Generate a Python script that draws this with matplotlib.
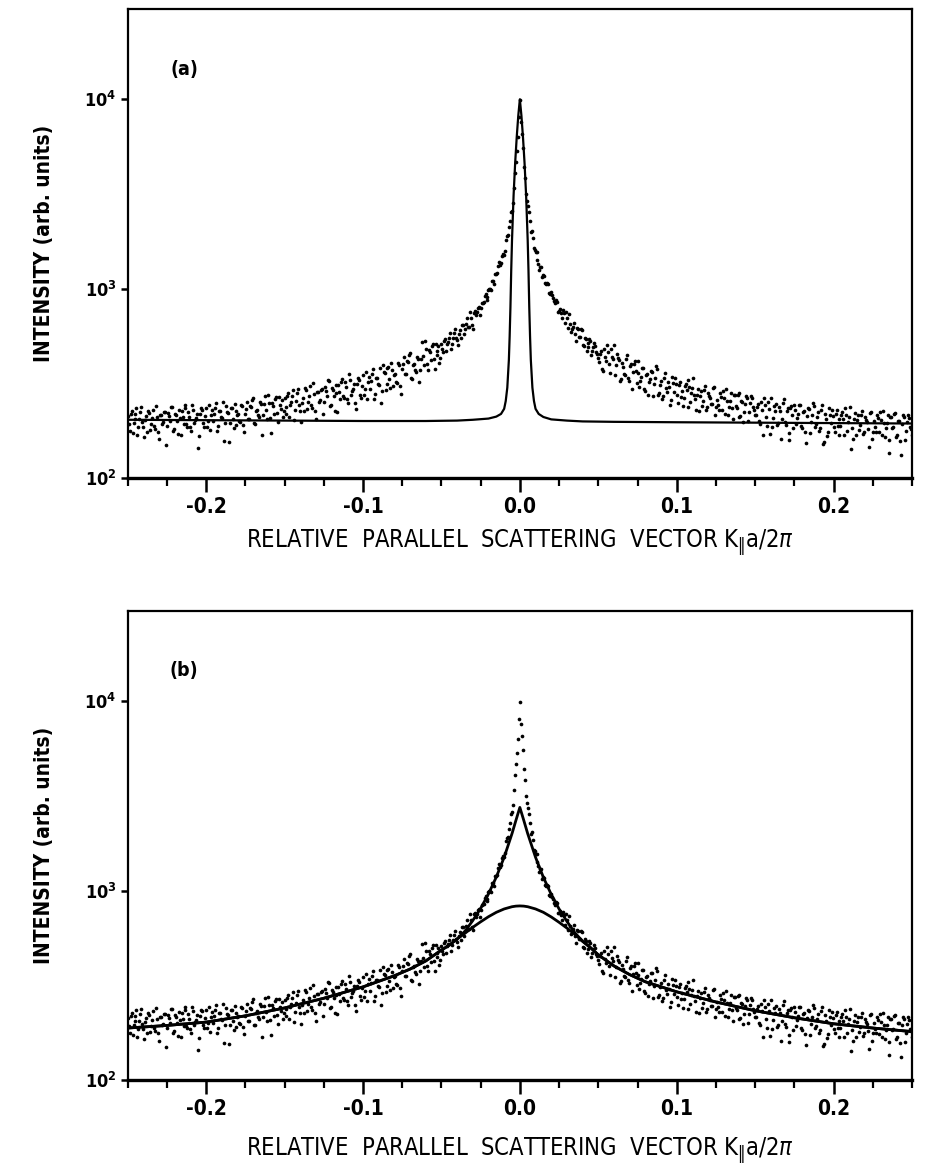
import numpy as np
import matplotlib
matplotlib.use("Agg")
import matplotlib.pyplot as plt
from matplotlib.ticker import FixedLocator, NullLocator, FixedFormatter

# ---------------- data ----------------
# measured intensity, two interleaved scans on -0.25 ... 0.25 (same data in both panels)
scan1_left = [
    212, 178, 226, 196, 218, 168, 206, 236, 186, 202, 176, 220, 192, 230, 182, 210, 160, 216, 198, 224,
    189, 213, 238, 178, 219, 199, 228, 168, 209, 234, 193, 223, 185, 244, 195, 207, 144, 217, 230, 187,
    233, 201, 180, 229, 218, 248, 189, 225, 208, 157, 240, 220, 195, 235, 184, 227, 214, 199, 244, 191,
    218, 252, 205, 236, 266, 194, 230, 210, 245, 216, 271, 206, 250, 172, 241, 260, 220, 267, 232, 211,
    264, 217, 282, 242, 272, 203, 254, 296, 227, 249, 227, 290, 251, 305, 235, 277, 204, 284, 258, 295,
    253, 289, 328, 239, 300, 270, 311, 222, 284, 320, 272, 321, 260, 353, 274, 295, 248, 312, 330, 263,
    350, 296, 261, 343, 324, 375, 277, 337, 309, 249, 393, 359, 314, 386, 297, 373, 348, 321, 404, 307,
    378, 437, 355, 410, 460, 335, 398, 363, 425, 374, 522, 396, 482, 374, 464, 500, 423, 513, 446, 405,
    508, 465, 545, 509, 551, 481, 551, 609, 536, 578, 548, 645, 610, 701, 625, 700, 616, 763, 752, 800,
    786, 845, 914, 876, 978, 996, 1097, 1060, 1197, 1318, 1326, 1489, 1513, 1818, 1921, 2287, 2587, 3410, 4662, 6325,
]
scan1_center = [9900]
scan1_right = [
    6592, 4383, 3152, 2744, 2280, 2028, 1644, 1568, 1421, 1254, 1294, 1184, 1074, 1074, 947, 960, 898, 840, 855, 761,
    741, 774, 662, 700, 731, 587, 629, 579, 619, 557, 609, 502, 552, 466, 517, 530, 469, 516, 463, 429,
    451, 378, 480, 417, 463, 357, 438, 502, 395, 429, 326, 407, 355, 426, 337, 389, 296, 400, 366, 414,
    304, 343, 383, 287, 353, 320, 366, 271, 337, 376, 282, 327, 270, 357, 285, 303, 258, 318, 336, 273,
    310, 268, 240, 305, 290, 330, 251, 299, 276, 228, 296, 272, 241, 291, 228, 280, 265, 246, 301, 236,
    243, 280, 228, 263, 295, 215, 255, 233, 273, 240, 276, 209, 255, 198, 245, 264, 224, 271, 236, 214,
    237, 199, 253, 168, 244, 188, 231, 264, 208, 226, 190, 238, 160, 248, 197, 227, 173, 233, 214, 242,
    193, 218, 244, 183, 225, 153, 233, 172, 214, 239, 192, 222, 184, 243, 155, 206, 175, 216, 228, 186,
    219, 189, 169, 215, 205, 233, 177, 211, 143, 161, 220, 203, 179, 216, 170, 209, 197, 146, 224, 176,
    186, 215, 175, 202, 227, 165, 196, 136, 209, 184, 218, 165, 201, 156, 194, 209, 177, 214, 186, 169,
]
scan2_left = [
    192, 218, 172, 204, 234, 186, 224, 198, 164, 212, 226, 180, 208, 188, 240, 176, 216, 194, 222, 150,
    221, 201, 236, 182, 215, 170, 207, 226, 193, 242, 187, 211, 178, 230, 203, 219, 166, 234, 195, 213,
    187, 242, 216, 199, 235, 178, 227, 210, 252, 195, 223, 155, 233, 206, 246, 191, 218, 197, 240, 174,
    232, 205, 241, 259, 196, 227, 214, 252, 168, 245, 229, 274, 208, 248, 218, 267, 197, 243, 257, 225,
    236, 271, 209, 252, 293, 228, 280, 244, 198, 263, 298, 232, 272, 244, 318, 227, 284, 252, 293, 218,
    302, 272, 324, 244, 293, 226, 281, 309, 260, 333, 263, 302, 250, 331, 289, 314, 231, 337, 276, 305,
    273, 364, 322, 294, 353, 260, 339, 312, 381, 287, 364, 292, 383, 334, 406, 307, 356, 318, 394, 277,
    402, 355, 417, 449, 339, 394, 371, 437, 320, 425, 441, 527, 401, 477, 419, 513, 378, 468, 495, 432,
    482, 529, 467, 525, 581, 513, 584, 552, 506, 604, 646, 579, 649, 629, 750, 640, 748, 729, 790, 724,
    840, 848, 932, 904, 996, 980, 1093, 1190, 1205, 1378, 1362, 1519, 1576, 1901, 2104, 2542, 2829, 4064, 5319, 8096,
]
scan2_right = [
    7616, 5523, 3823, 2897, 2531, 1990, 1848, 1610, 1568, 1347, 1306, 1156, 1169, 1060, 1061, 933, 925, 857, 869, 757,
    784, 698, 741, 752, 618, 654, 612, 657, 531, 610, 556, 604, 500, 543, 491, 544, 444, 493, 499, 450,
    411, 467, 368, 437, 501, 398, 479, 424, 351, 454, 420, 335, 387, 350, 446, 327, 402, 361, 413, 316,
    359, 325, 382, 295, 349, 276, 335, 365, 312, 392, 274, 310, 262, 337, 298, 322, 244, 343, 286, 313,
    249, 323, 289, 266, 314, 238, 303, 280, 337, 260, 276, 226, 289, 255, 305, 237, 271, 245, 297, 216,
    259, 228, 269, 289, 218, 254, 238, 281, 206, 274, 234, 280, 213, 253, 222, 272, 201, 249, 263, 229,
    216, 245, 194, 230, 263, 209, 252, 171, 185, 239, 245, 195, 226, 204, 260, 191, 234, 158, 241, 184,
    228, 207, 243, 188, 222, 175, 213, 232, 198, 249, 187, 211, 178, 230, 152, 219, 166, 234, 195, 213,
    176, 228, 204, 188, 222, 168, 214, 198, 238, 184, 206, 169, 216, 190, 227, 176, 202, 182, 221, 161,
    199, 176, 207, 222, 168, 195, 183, 216, 158, 210, 185, 221, 168, 200, 132, 215, 159, 197, 208, 181,
]
intensity1 = np.array(scan1_left + scan1_center + scan1_right, dtype=float)
intensity2 = np.array(scan2_left + scan2_right, dtype=float)
q1 = np.linspace(-0.25, 0.25, len(intensity1))
q2 = np.linspace(-0.249375, 0.249375, len(intensity2))
q_data = np.concatenate([q1, q2])
intensity = np.concatenate([intensity1, intensity2])

# panel (a): narrow fit curve
fit_a_q = [-0.25, -0.2, -0.15, -0.1, -0.06, -0.04, -0.03, -0.02, -0.015, -0.012, -0.01, -0.009,
           -0.008, -0.007, -0.0065, -0.006, -0.0055, -0.005, -0.004, -0.003, -0.002, -0.001, 0.0,
           0.001, 0.002, 0.003, 0.004, 0.005, 0.0055, 0.006, 0.0065, 0.007, 0.008, 0.009,
           0.01, 0.012, 0.015, 0.02, 0.03, 0.04, 0.06, 0.1, 0.15, 0.2, 0.25]
fit_a_I = [203, 202, 201, 200, 200, 201, 203, 206, 211, 218, 232, 255,
           300, 420, 560, 800, 1250, 1800, 3100, 4600, 6300, 8200, 10000,
           8200, 6300, 4600, 3100, 1800, 1250, 800, 560, 420, 300, 255,
           232, 218, 210, 204, 201, 199, 198, 197, 196, 195, 194]

# panel (b): two fit curves (broad and cusp), identical in the wings
fit_b_q = [-0.25, -0.225, -0.2, -0.175, -0.15, -0.125, -0.1, -0.08, -0.07, -0.06, -0.05, -0.045,
           -0.04, -0.035, -0.03, -0.025, -0.02, -0.015, -0.01, -0.005, -0.0025, 0.0,
           0.0025, 0.005, 0.01, 0.015, 0.02, 0.025, 0.03, 0.035, 0.04,
           0.045, 0.05, 0.06, 0.07, 0.08, 0.1, 0.125, 0.15, 0.175, 0.2, 0.225, 0.25]
fit_b_cusp = [188, 194, 202, 218, 240, 270, 310, 355, 385, 425, 485, 515,
              555, 610, 695, 805, 960, 1180, 1500, 2000, 2350, 2750,
              2350, 2000, 1500, 1175, 955, 800, 688, 600, 540,
              500, 458, 400, 360, 330, 292, 258, 232, 213, 198, 188, 180]
fit_b_broad = [188, 194, 202, 218, 240, 270, 310, 355, 385, 425, 485, 515,
               555, 595, 640, 684, 728, 768, 800, 822, 828, 830,
               828, 822, 800, 768, 726, 680, 634, 588, 540,
               500, 458, 400, 360, 330, 292, 258, 232, 213, 198, 188, 180]

x_major = [-0.2, -0.1, 0.0, 0.1, 0.2]
x_major_labels = ["-0.2", "-0.1", "0.0", "0.1", "0.2"]
x_minor = [-0.25, -0.225, -0.175, -0.15, -0.125, -0.075, -0.05, -0.025,
           0.025, 0.05, 0.075, 0.125, 0.15, 0.175, 0.225, 0.25]
y_major = [1e2, 1e3, 1e4]
y_major_labels = [r"$\mathbf{10^{2}}$", r"$\mathbf{10^{3}}$", r"$\mathbf{10^{4}}$"]

xlabel_text = r"RELATIVE  PARALLEL  SCATTERING  VECTOR K$_{\Vert}$a/2$\pi$"
ylabel_text = "INTENSITY (arb. units)"

# ---------------- figure ----------------
plt.rcParams['font.family'] = ['DejaVu Sans']
plt.rcParams['font.stretch'] = 'condensed'
plt.rcParams['mathtext.fontset'] = 'dejavusans'

fig = plt.figure(figsize=(9.25, 11.67), dpi=100)
ax_a = fig.add_axes([0.138, 0.5904, 0.848, 0.4019])
ax_b = fig.add_axes([0.138, 0.0746, 0.848, 0.4019])


def style(ax, label, xlab_pad):
    ax.set_yscale('log')
    ax.set_xlim(-0.25, 0.25)
    ax.set_ylim(100, 3.0e4)
    for s in ax.spines.values():
        s.set_linewidth(1.6)
    ax.spines['bottom'].set_linewidth(2.4)
    ax.xaxis.set_major_locator(FixedLocator(x_major))
    ax.xaxis.set_major_formatter(FixedFormatter(x_major_labels))
    ax.xaxis.set_minor_locator(FixedLocator(x_minor))
    ax.yaxis.set_major_locator(FixedLocator(y_major))
    ax.yaxis.set_major_formatter(FixedFormatter(y_major_labels))
    ax.yaxis.set_minor_locator(NullLocator())
    ax.tick_params(axis='x', which='major', direction='out', length=10, width=1.8,
                   labelsize=15, pad=4)
    ax.tick_params(axis='x', which='minor', direction='out', length=6, width=1.6)
    ax.tick_params(axis='y', which='major', direction='out', length=5, width=1.8,
                   labelsize=13, pad=3)
    for t in ax.get_xticklabels():
        t.set_fontweight('bold')
    ax.set_xlabel(xlabel_text, fontsize=17, labelpad=xlab_pad)
    ax.set_ylabel(ylabel_text, fontsize=15, fontweight='bold', labelpad=22)
    ax.text(0.072, 0.872, label, transform=ax.transAxes, fontsize=14,
            fontweight='bold', ha='center', va='center')


# panel (a)
ax_a.scatter(q_data, intensity, s=7, color='black', linewidths=0, zorder=3)
ax_a.plot(fit_a_q, fit_a_I, color='black', lw=1.6, zorder=2)
style(ax_a, "(a)", 7)

# panel (b)
ax_b.scatter(q_data, intensity, s=7, color='black', linewidths=0, zorder=3)
ax_b.plot(fit_b_q, fit_b_cusp, color='black', lw=2.0, zorder=2)
ax_b.plot(fit_b_q, fit_b_broad, color='black', lw=2.0, zorder=2)
style(ax_b, "(b)", 11)

fig.savefig("out.png", dpi=100)
